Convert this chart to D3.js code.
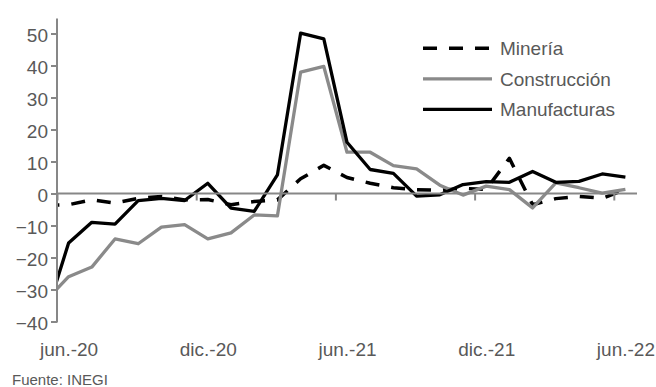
<!DOCTYPE html>
<html><head><meta charset="utf-8">
<script src="https://cdn.jsdelivr.net/npm/d3@7"></script>
<style>
html,body{margin:0;padding:0;background:#fff;}
svg{display:block;}
text{font-family:"Liberation Sans",Arial,sans-serif;fill:#595959;}
</style></head>
<body>
<svg id="c" width="656" height="387"></svg>
<script>
const months = ["may.-20","jun.-20","jul.-20","ago.-20","sep.-20","oct.-20","nov.-20","dic.-20",
  "ene.-21","feb.-21","mar.-21","abr.-21","may.-21","jun.-21","jul.-21","ago.-21","sep.-21","oct.-21","nov.-21","dic.-21",
  "ene.-22","feb.-22","mar.-22","abr.-22","may.-22","jun.-22"];
const mineria = [-3.7,-3.5,-2,-3,-1.5,-0.9,-2,-1.9,-3.5,-2.5,-2,4.6,8.8,5,3.2,1.8,1.2,1,1.6,1.3,11,-3.5,-1.6,-0.9,-1.5,1.2];
const construccion = [-33.6,-26,-23,-14.2,-15.7,-10.5,-9.7,-14.2,-12.3,-6.7,-7,37.9,39.7,12.9,12.9,8.7,7.7,2.6,-0.5,2.3,1.2,-4.5,3.3,1.8,0.1,1.3];
const manufacturas = [-38.5,-15.5,-9,-9.6,-2.2,-1.5,-2.2,3.2,-4.6,-5.6,5.8,50.1,48.3,16,7.5,6.3,-0.8,-0.4,2.8,3.7,3.5,6.9,3.5,3.8,6.1,5.1];
const seriesNames = ["Minería","Construcción","Manufacturas"];
const yTicks = [-40,-30,-20,-10,0,10,20,30,40,50];
const xLabels = ["jun.-20","dic.-20","jun.-21","dic.-21","jun.-22"];
const source = "Fuente: INEGI";

const series = [
  {name:seriesNames[0], values:mineria, color:"#000", width:3.5, dash:"14,12"},
  {name:seriesNames[1], values:construccion, color:"#8a8a8a", width:3.3, dash:null},
  {name:seriesNames[2], values:manufacturas, color:"#000", width:3.3, dash:null}
];

const svg = d3.select("#c");
const left = 57, right = 637;
const x = d3.scaleLinear().domain([0.5, months.length - 0.5]).range([left, right]);
const y = d3.scaleLinear().domain([-40, 50]).range([321.5, 33.5]);
const axisColor = "#878787";

svg.append("defs").append("clipPath").attr("id","plot")
  .append("rect").attr("x", left).attr("y", 0).attr("width", right-left).attr("height", 387);

// lines
const line = d3.line().x((d,i)=>x(i)).y(d=>y(d));
svg.append("g").attr("clip-path","url(#plot)")
  .selectAll("path").data(series).join("path")
  .attr("d", d=>line(d.values))
  .attr("fill","none")
  .attr("stroke", d=>d.color)
  .attr("stroke-width", d=>d.width)
  .attr("stroke-linejoin","round")
  .attr("stroke-dasharray", d=>d.dash);

// y axis
const yAxis = svg.append("g").attr("transform",`translate(${left},0)`)
  .call(d3.axisLeft(y).tickValues(yTicks).tickSize(6).tickPadding(3));
yAxis.select(".domain").remove();
yAxis.selectAll(".tick line").attr("stroke", axisColor).attr("stroke-width",2);
yAxis.selectAll(".tick text").attr("font-size","19px").attr("font-family","Liberation Sans, Arial, sans-serif")
  .attr("fill","#595959").attr("dy","0.4em");
yAxis.append("line").attr("x1",0).attr("x2",0).attr("y1", y(54.7)).attr("y2", y(-40)+1)
  .attr("stroke", axisColor).attr("stroke-width",2);

// x axis at zero
const bw = x(1) - x(0);
const labelIdx = xLabels.map(l => months.indexOf(l));
const xAxis = svg.append("g").attr("transform",`translate(0,${y(0)})`)
  .call(d3.axisBottom(x).tickValues(labelIdx).tickSize(7).tickFormat(""));
xAxis.select(".domain").remove();
xAxis.selectAll(".tick line").attr("x1",-bw/2).attr("x2",-bw/2).attr("stroke",axisColor).attr("stroke-width",2);
xAxis.append("line").attr("x1",left).attr("x2",right).attr("y1",0).attr("y2",0)
  .attr("stroke",axisColor).attr("stroke-width",2);

// x labels
const xl = svg.append("g").attr("transform",`translate(0,${y(-40)})`)
  .call(d3.axisBottom(x).tickValues(labelIdx).tickSize(0).tickFormat(i=>months[i]));
xl.select(".domain").remove();
xl.selectAll(".tick text").attr("font-size","19px").attr("font-family","Liberation Sans, Arial, sans-serif")
  .attr("fill","#595959").attr("dy",0).attr("y", 34.5);

// legend
const legY = [48.3, 78.8, 109.3];
const leg = svg.append("g");
series.forEach((s,i)=>{
  leg.append("line").attr("x1",423).attr("x2",492).attr("y1",legY[i]).attr("y2",legY[i])
    .attr("stroke",s.color).attr("stroke-width",s.width).attr("stroke-dasharray",s.dash);
  leg.append("text").attr("x",500).attr("y",legY[i]+7).attr("font-size","19px").text(s.name);
});

svg.append("text").attr("x",12).attr("y",385).attr("font-size","15px").text(source);
</script>
</body></html>
